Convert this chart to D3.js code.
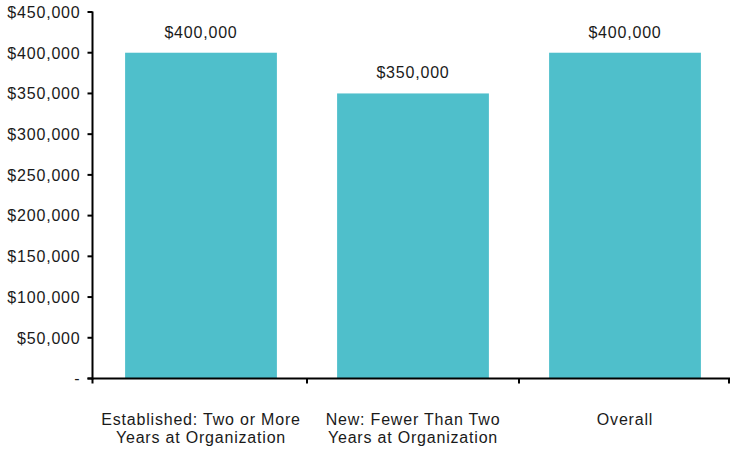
<!DOCTYPE html>
<html><head><meta charset="utf-8">
<script src="https://cdn.jsdelivr.net/npm/d3@7"></script>
<style>body{margin:0;background:#fff}svg{display:block}text{font-family:"Liberation Sans",Arial,sans-serif;fill:#1a1a1a}</style>
</head><body><svg id="c" width="730" height="449"></svg>
<script>
const categories = [["Established: Two or More","Years at Organization"],["New: Fewer Than Two","Years at Organization"],["Overall"]];
const values = [400000, 350000, 400000];
const yTicks = [0,50000,100000,150000,200000,250000,300000,350000,400000,450000];

const svg = d3.select("#c");
const axX = 92.5, x0 = 95, x1 = 731, yB = 378.5, yT = 12;
const keys = categories.map((c,i)=>i);
const x = d3.scaleBand().domain(keys).range([x0,x1]).paddingInner(0.284).paddingOuter(0.142);
const y = d3.scaleLinear().domain([0,450000]).range([yB,yT]);
const fmt = v => v===0 ? "-" : "$" + d3.format(",")(v);
const FS = "16px", LS = "0.8px";

svg.selectAll("rect.bar").data(values).join("rect").attr("class","bar")
  .attr("x",(d,i)=>x(i)).attr("width",x.bandwidth())
  .attr("y",d=>y(d)).attr("height",d=>yB-y(d)).attr("fill","#4FBFCB");

svg.selectAll("text.val").data(values).join("text").attr("class","val")
  .attr("x",(d,i)=>x(i)+x.bandwidth()/2).attr("y",d=>y(d)-15)
  .attr("text-anchor","middle").style("font-size",FS).style("letter-spacing",LS)
  .text(d=>fmt(d));

// y axis
const ya = svg.append("g");
ya.append("line").attr("x1",axX).attr("x2",axX).attr("y1",y(450000)-0.5).attr("y2",yB+1).attr("stroke","#000").attr("stroke-width",2);
ya.selectAll("line.t").data(yTicks).join("line").attr("class","t")
  .attr("x1",axX-5).attr("x2",axX).attr("y1",d=>y(d)).attr("y2",d=>y(d)).attr("stroke","#000").attr("stroke-width",2);
ya.selectAll("text").data(yTicks).join("text")
  .attr("x",80.5).attr("y",d=>y(d)+5.8).attr("text-anchor","end")
  .style("font-size",FS).style("letter-spacing",LS).text(d=>fmt(d));

// x axis
const xa = svg.append("g");
xa.append("line").attr("x1",axX-5).attr("x2",730).attr("y1",yB).attr("y2",yB).attr("stroke","#000").attr("stroke-width",2);
const step = x.step();
const bounds = d3.range(keys.length+1).map(i=>i===0?axX:x0+i*step);
xa.selectAll("line.t").data(bounds).join("line").attr("class","t")
  .attr("x1",d=>Math.min(d,729)).attr("x2",d=>Math.min(d,729)).attr("y1",yB).attr("y2",yB+5).attr("stroke","#000").attr("stroke-width",2);
categories.forEach((lines,i)=>{
  const t = xa.append("text").attr("text-anchor","middle").style("font-size",FS).style("letter-spacing",LS);
  lines.forEach((l,j)=>t.append("tspan").attr("x",x(i)+x.bandwidth()/2).attr("y",424.5+j*18.5).text(l));
});
</script></body></html>
